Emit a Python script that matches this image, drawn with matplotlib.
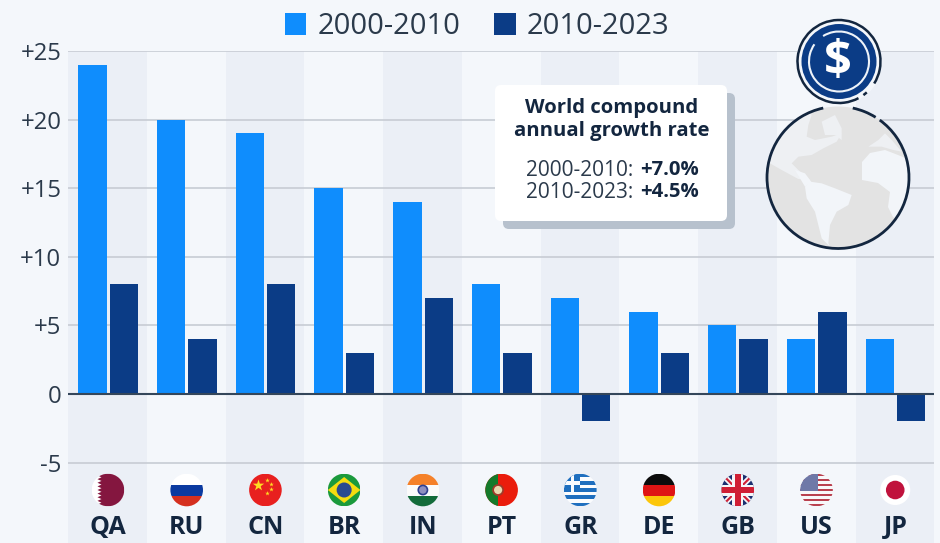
import matplotlib
matplotlib.use("Agg")
import matplotlib.pyplot as plt
from matplotlib.patches import Arc, Circle, FancyBboxPatch, Polygon, Rectangle

plt.rcParams["font.family"] = ["Open Sans", "DejaVu Sans"]

countries = ["QA", "RU", "CN", "BR", "IN", "PT", "GR", "DE", "GB", "US", "JP"]
growth_2000_2010 = [24, 20, 19, 15, 14, 8, 7, 6, 5, 4, 4]
growth_2010_2023 = [8, 4, 8, 3, 7, 3, -2, 3, 4, 6, -2]
y_ticks = [-5, 0, 5, 10, 15, 20, 25]
y_tick_labels = ["-5", "0", "+5", "+10", "+15", "+20", "+25"]
series_names = ["2000-2010", "2010-2023"]

BG = "#f4f7fb"
BAND = "#ebeff6"
LIGHT = "#0f8dfd"
DARK = "#0b3c86"
GRID = "#c7ccd4"
INK = "#2b3a4b"
NAVY = "#13263f"

W, H = 940, 543
fig = plt.figure(figsize=(W / 100, H / 100), dpi=100, facecolor=BG)

# Main plot area: runs from the +25 gridline down to the bottom edge
ax = fig.add_axes([68.3 / W, 0, 866 / W, (H - 51) / H], facecolor=BG)
px_per_unit = 343 / 25
ax.set_xlim(-0.5, 10.5)
ax.set_ylim(25 - (H - 51) / px_per_unit, 25)

for i in range(0, len(countries), 2):
    ax.axvspan(i - 0.5, i + 0.5, color=BAND, lw=0, zorder=0)

for t in y_ticks:
    if t != 0:
        ax.axhline(t, color=GRID, lw=1.2, zorder=1)

positions = list(range(len(countries)))
bars_a = ax.bar([p - 0.193 for p in positions], growth_2000_2010, width=0.36,
                color=LIGHT, zorder=2, label=series_names[0])
bars_b = ax.bar([p + 0.205 for p in positions], growth_2010_2023, width=0.36,
                color=DARK, zorder=2, label=series_names[1])
ax.axhline(0, color="#34465a", lw=1.5, zorder=3)

ax.set_yticks(y_ticks, y_tick_labels, fontsize=17.2, color=INK)
ax.set_xticks([])
ax.tick_params(axis="y", length=0, pad=5)
for spine in ax.spines.values():
    spine.set_visible(False)

for p, code in zip(positions, countries):
    ax.annotate(code, xy=(p, 0), xycoords=("data", "figure fraction"),
                xytext=(0.5, 16), textcoords="offset pixels",
                ha="center", va="center", fontsize=18, fontweight="bold", color=NAVY)

fig.legend(handles=[bars_a, bars_b], loc="center", bbox_to_anchor=(477 / W, 1 - 26.5 / H),
           ncol=2, frameon=False, fontsize=21, labelcolor=INK, handlelength=0.75,
           handleheight=0.75, handletextpad=0.38, columnspacing=1.15, borderpad=0)

# Overlay in pixel units for the callout, globe, coin and flags
ov = fig.add_axes([0, 0, 1, 1], facecolor="none", zorder=5)
ov.set_xlim(0, W)
ov.set_ylim(H, 0)
ov.axis("off")


def rounded(x0, y0, x1, y1, color, z):
    ov.add_patch(FancyBboxPatch((x0 + 6, y0 + 6), x1 - x0 - 12, y1 - y0 - 12,
                                boxstyle="round,pad=6,rounding_size=6", fc=color, ec="none", zorder=z))


# Callout card with world growth rates
rounded(503, 93, 735, 229, "#b7c1cd", 2)
rounded(495, 85, 727, 221, "#ffffff", 3)
ov.text(611.5, 108, "World compound", ha="center", va="center", fontsize=14.6,
        fontweight="bold", color=NAVY, zorder=4)
ov.text(611.5, 131, "annual growth rate", ha="center", va="center", fontsize=14.6,
        fontweight="bold", color=NAVY, zorder=4)
for y, period, rate in [(170, "2000-2010:", "+7.0%"), (192, "2010-2023:", "+4.5%")]:
    ov.text(633.5, y, period, ha="right", va="center", fontsize=15, color=INK, zorder=4)
    ov.text(640, y, rate, ha="left", va="center", fontsize=14.6, fontweight="bold",
            color=NAVY, zorder=4)

# Globe
gx, gy, gr = 838, 177.5, 71
globe_clip = Circle((gx, gy), gr, transform=ov.transData)
ov.add_patch(Circle((gx, gy), gr, fc="#e3e3e3", ec="none", zorder=2))
LAND = "#f2f5f9"
NORTH_LAND = "#eef0f3"


def placed(x0, y0, points):
    return [(x0 + a / 3, y0 + b / 3) for a, b in points]


continents = [
    # North America
    (placed(765, 105, [(0, 170), (-10, 80), (60, 20), (120, 0), (140, 30), (130, 60), (125, 95),
                       (150, 105), (200, 95), (230, 85), (215, 110), (175, 130), (140, 150),
                       (100, 155), (80, 175), (100, 195), (135, 225), (100, 222), (50, 195), (15, 175)]),
     NORTH_LAND),
    # Central America
    (placed(765, 175, [(90, -15), (120, -5), (140, 22), (120, 35)]), LAND),
    # South America
    (placed(765, 175, [(120, 35), (135, 20), (170, 25), (210, 40), (260, 60), (250, 90), (215, 110),
                       (195, 150), (190, 205), (195, 215), (170, 190), (160, 150), (150, 110), (125, 70)]),
     LAND),
    # Greenland
    (placed(835, 105, [(-40, 50), (0, 30), (20, 70), (20, 105), (0, 90), (-30, 90)]), NORTH_LAND),
    # Europe
    (placed(835, 105, [(100, 125), (130, 105), (150, 85), (170, 105), (200, 140), (175, 135), (140, 125)]),
     NORTH_LAND),
    # Africa
    ([(862, 180), (862, 162), (870, 153), (885, 150), (898, 155), (915, 162), (915, 230), (893, 217),
      (888, 207), (890, 192), (878, 183)], LAND),
]
for shape, shade in continents:
    land = Polygon(shape, closed=True, fc=shade, ec="none", zorder=2.1)
    ov.add_patch(land)
    land.set_clip_path(globe_clip)

for t1, t2 in [(282, 302), (306, 618)]:
    ov.add_patch(Arc((gx, gy), 2 * gr, 2 * gr, theta1=t1, theta2=t2, ec=NAVY, lw=2, zorder=2.2))

# Dollar coin
cx, cy = 839, 61.5
ov.add_patch(Circle((cx, cy), 43, fc=BG, ec="none", zorder=2.3))
ov.add_patch(Circle((cx, cy), 37.5, fc=DARK, ec="none", zorder=2.4))
for t1, t2 in [(48, 54), (62, 392)]:
    ov.add_patch(Arc((cx, cy), 83, 83, theta1=t1, theta2=t2, ec=NAVY, lw=1.8, zorder=2.5))
ov.add_patch(Arc((cx, cy), 60, 60, theta1=238, theta2=575, ec="#eef3f9", lw=1.5, zorder=2.5))
ov.text(cx - 1, cy + 1, "$", ha="center", va="center", fontsize=35, fontweight="bold",
        color="white", zorder=2.6)


# Round flags, each drawn from simple shapes clipped to a disc
def disc_flag(x, y, r, parts):
    clip = Circle((x, y), r, transform=ov.transData)
    for part in parts:
        ov.add_patch(part)
        part.set_clip_path(clip)


def rect(x0, y0, w, h, color, z=3):
    return Rectangle((x0, y0), w, h, fc=color, ec="none", zorder=z)


def poly(points, color, z=3.1):
    return Polygon(points, closed=True, fc=color, ec="none", zorder=z)


def flag_qa(x, y, r):
    teeth = []
    n = 9
    step = 2 * r / n
    for k in range(n):
        teeth += [(x - 6.5, y - r + k * step), (x - 10.5, y - r + (k + .5) * step)]
    teeth += [(x - 6.5, y + r), (x + r, y + r), (x + r, y - r)]
    disc_flag(x, y, r, [rect(x - r, y - r, 2 * r, 2 * r, "#ffffff"), poly(teeth, "#84163f")])


def flag_ru(x, y, r):
    disc_flag(x, y, r, [rect(x - r, y - r, 2 * r, 11.5, "#ffffff"),
                        rect(x - r, y - 5.5, 2 * r, 11.5, "#0b3aa0"),
                        rect(x - r, y + 6, 2 * r, 11, "#d5301f")])


def flag_cn(x, y, r):
    disc_flag(x, y, r, [rect(x - r, y - r, 2 * r, 2 * r, "#e8201f")])
    ov.scatter([x - 7.5], [y - 5.5], marker="*", s=75, c="#ffdd22", lw=0, zorder=3.2)
    ov.scatter([x + 2, x + 6, x + 6, x + 2], [y - 10, y - 6, y - 1, y + 3], marker="*", s=12,
               c="#ffdd22", lw=0, zorder=3.2)


def flag_br(x, y, r):
    disc_flag(x, y, r, [rect(x - r, y - r, 2 * r, 2 * r, "#1b9a3c"),
                        poly([(x - r, y), (x, y - 13), (x + r, y), (x, y + 13)], "#f5dc10"),
                        Circle((x, y), 7.5, fc="#2a4a8f", ec="none", zorder=3.2)])


def flag_in(x, y, r):
    disc_flag(x, y, r, [rect(x - r, y - r, 2 * r, 11, "#f5812a"),
                        rect(x - r, y - 5.5, 2 * r, 11, "#fbfbfb"),
                        rect(x - r, y + 5.5, 2 * r, 11, "#136b3a")])
    ov.add_patch(Circle((x, y), 4.6, fc="#8f8fc0", ec="#2f3f8f", lw=1.2, zorder=3.2))


def flag_pt(x, y, r):
    disc_flag(x, y, r, [rect(x - r, y - r, 2 * r, 2 * r, "#ea1c0c"),
                        rect(x - r, y - r, 13, 2 * r, "#157a2a")])
    ov.add_patch(Circle((x - 3.5, y), 5, fc="#e9d9b0", ec="#a03a2a", lw=1.3, zorder=3.2))


def flag_gr(x, y, r):
    blue = "#1f6fbf"
    parts = [rect(x - r, y - r, 2 * r, 2 * r, "#fbfcfe")]
    h = 2 * r / 9
    parts += [rect(x - r, y - r + 2 * k * h, 2 * r, h, blue) for k in range(5)]
    parts += [rect(x - r, y - r, 16, 5 * h, blue, 3.1),
              rect(x - r, y - r + 2 * h, 16, h, "#fbfcfe", 3.2),
              rect(x - r + 6.5, y - r, 3, 5 * h, "#fbfcfe", 3.2)]
    disc_flag(x, y, r, parts)


def flag_de(x, y, r):
    disc_flag(x, y, r, [rect(x - r, y - r, 2 * r, 11, "#0c0c0c"),
                        rect(x - r, y - 5.5, 2 * r, 11, "#df1414"),
                        rect(x - r, y + 5.5, 2 * r, 11, "#fcc60a")])


def flag_gb(x, y, r):
    blue = "#1b2f70"
    red = "#d01f35"
    parts = [rect(x - r, y - r, 2 * r, 2 * r, blue)]
    for sx in (1, -1):
        parts.append(poly([(x - sx * r, y - r + 4), (x - sx * r + sx * 4, y - r), (x + sx * r, y + r - 4),
                           (x + sx * r - sx * 4, y + r)], "#f6f6f8", 3.05))
        parts.append(poly([(x - sx * r, y - r + 1.5), (x - sx * r + sx * 1.5, y - r), (x + sx * r, y + r - 1.5),
                           (x + sx * r - sx * 1.5, y + r)], red, 3.06))
    parts += [rect(x - 5.5, y - r, 11, 2 * r, "#f6f6f8", 3.1), rect(x - r, y - 5.5, 2 * r, 11, "#f6f6f8", 3.1),
              rect(x - 3.2, y - r, 6.4, 2 * r, red, 3.2), rect(x - r, y - 3.2, 2 * r, 6.4, red, 3.2)]
    disc_flag(x, y, r, parts)


def flag_us(x, y, r):
    h = 2 * r / 13
    parts = [rect(x - r, y - r, 2 * r, 2 * r, "#f8f8fa")]
    parts += [rect(x - r, y - r + 2 * k * h, 2 * r, h, "#b9414f") for k in range(7)]
    parts.append(rect(x - r, y - r, r + 1, 7 * h, "#6f79a8", 3.1))
    disc_flag(x, y, r, parts)


def flag_jp(x, y, r):
    ov.add_patch(Circle((x, y), 15, fc="#ffffff", ec="none", zorder=3))
    ov.add_patch(Circle((x, y), 9.3, fc="#c0123c", ec="none", zorder=3.1))


flag_makers = [flag_qa, flag_ru, flag_cn, flag_br, flag_in, flag_pt,
               flag_gr, flag_de, flag_gb, flag_us, flag_jp]
for p, maker in zip(positions, flag_makers):
    maker(68.3 + (p + 0.5) * 866 / 11 + 0.3, 490, 16.3)

fig.savefig("out.png", dpi=100, facecolor=BG)
